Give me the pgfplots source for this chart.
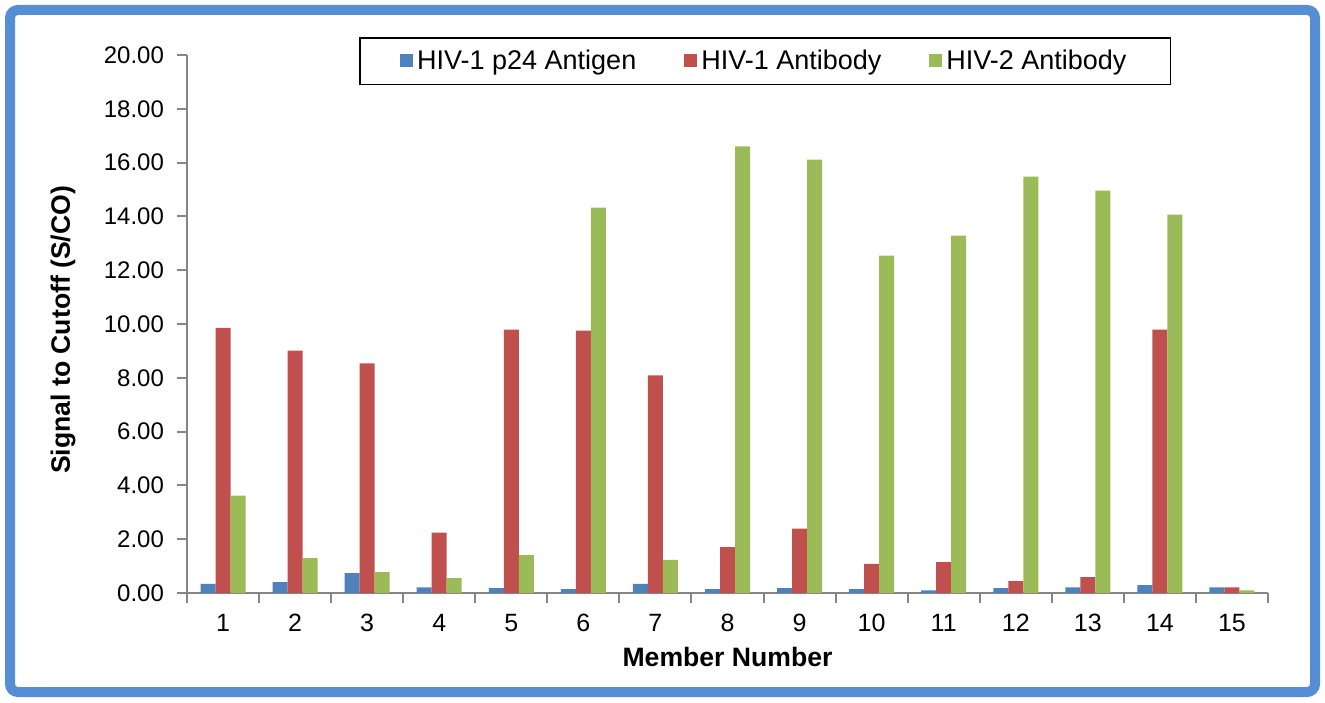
\documentclass[border=0pt]{standalone}
\usepackage{pgfplots}
\pgfplotsset{compat=1.18}
\usepackage{fontspec}
\setmainfont{Liberation Sans}
\definecolor{cblue}{HTML}{4F81BD}
\definecolor{cred}{HTML}{C0504D}
\definecolor{cgreen}{HTML}{9BBB59}
\definecolor{frameblue}{HTML}{558ED5}
\definecolor{axgray}{HTML}{868686}
\begin{document}
\begin{tikzpicture}[x=1pt,y=1pt]
\useasboundingbox (0,0) rectangle (662.5,351);
\draw[line width=5pt, color=frameblue, rounded corners=4pt] (5,5) rectangle (657.5,346);
\begin{axis}[
  at={(93.5pt,54.5pt)}, anchor=south west,
  scale only axis, width=540.5pt, height=269pt,
  xmin=0.5, xmax=15.5, ymin=0, ymax=20,
  ybar=0pt, bar width=7.5pt,
  axis x line*=bottom, axis y line*=left,
  axis line style={draw=axgray, line width=1pt},
  tick style={draw=axgray, line width=1pt},
  tick align=outside,
  xtick={1,2,3,4,5,6,7,8,9,10,11,12,13,14,15},
  xticklabels={1,2,3,4,5,6,7,8,9,10,11,12,13,14,15},
  major x tick style={draw=none},
  minor xtick={0.5,1.5,2.5,3.5,4.5,5.5,6.5,7.5,8.5,9.5,10.5,11.5,12.5,13.5,14.5,15.5},
  minor tick length=5pt,
  major tick length=5pt,
  ytick={0,2,4,6,8,10,12,14,16,18,20},
  yticklabels={0.00,2.00,4.00,6.00,8.00,10.00,12.00,14.00,16.00,18.00,20.00},
  yticklabel style={font=\fontsize{12}{14}\selectfont, xshift=-3pt},
  xticklabel style={font=\fontsize{12.5}{14}\selectfont, yshift=-2pt},
  xlabel={\bfseries Member Number},
  ylabel={\bfseries Signal to Cutoff (S/CO)},
  label style={font=\fontsize{13.3}{15}\selectfont},
  xlabel style={at={(rel axis cs:0.5,0)}, anchor=center, yshift=-32pt},
  ylabel style={at={(rel axis cs:0,0.489)}, anchor=center, yshift=62pt},
  legend columns=3,
  legend style={at={(rel axis cs:0.535,1.033)}, anchor=north, draw=black, line width=0.8pt,
    font=\fontsize{13.5}{15}\selectfont, inner xsep=20pt, inner ysep=4pt,
    nodes={inner xsep=2pt},
    /tikz/every even column/.append style={column sep=22pt}},
  legend image code/.code={\fill[#1] (0pt,-3pt) rectangle (6.5pt,3.5pt);},
]
\addplot[fill=cblue, draw=none] coordinates {(1,0.34) (2,0.40) (3,0.74) (4,0.21) (5,0.18) (6,0.14) (7,0.34) (8,0.14) (9,0.18) (10,0.14) (11,0.10) (12,0.18) (13,0.21) (14,0.29) (15,0.21)};
\addplot[fill=cred, draw=none] coordinates {(1,9.86) (2,9.01) (3,8.54) (4,2.24) (5,9.79) (6,9.75) (7,8.09) (8,1.71) (9,2.39) (10,1.08) (11,1.15) (12,0.44) (13,0.59) (14,9.79) (15,0.21)};
\addplot[fill=cgreen, draw=none] coordinates {(1,3.62) (2,1.30) (3,0.78) (4,0.55) (5,1.41) (6,14.33) (7,1.23) (8,16.60) (9,16.11) (10,12.54) (11,13.29) (12,15.48) (13,14.96) (14,14.07) (15,0.10)};
\legend{HIV-1 p24 Antigen, HIV-1 Antibody, HIV-2 Antibody}
\end{axis}
\end{tikzpicture}
\end{document}
